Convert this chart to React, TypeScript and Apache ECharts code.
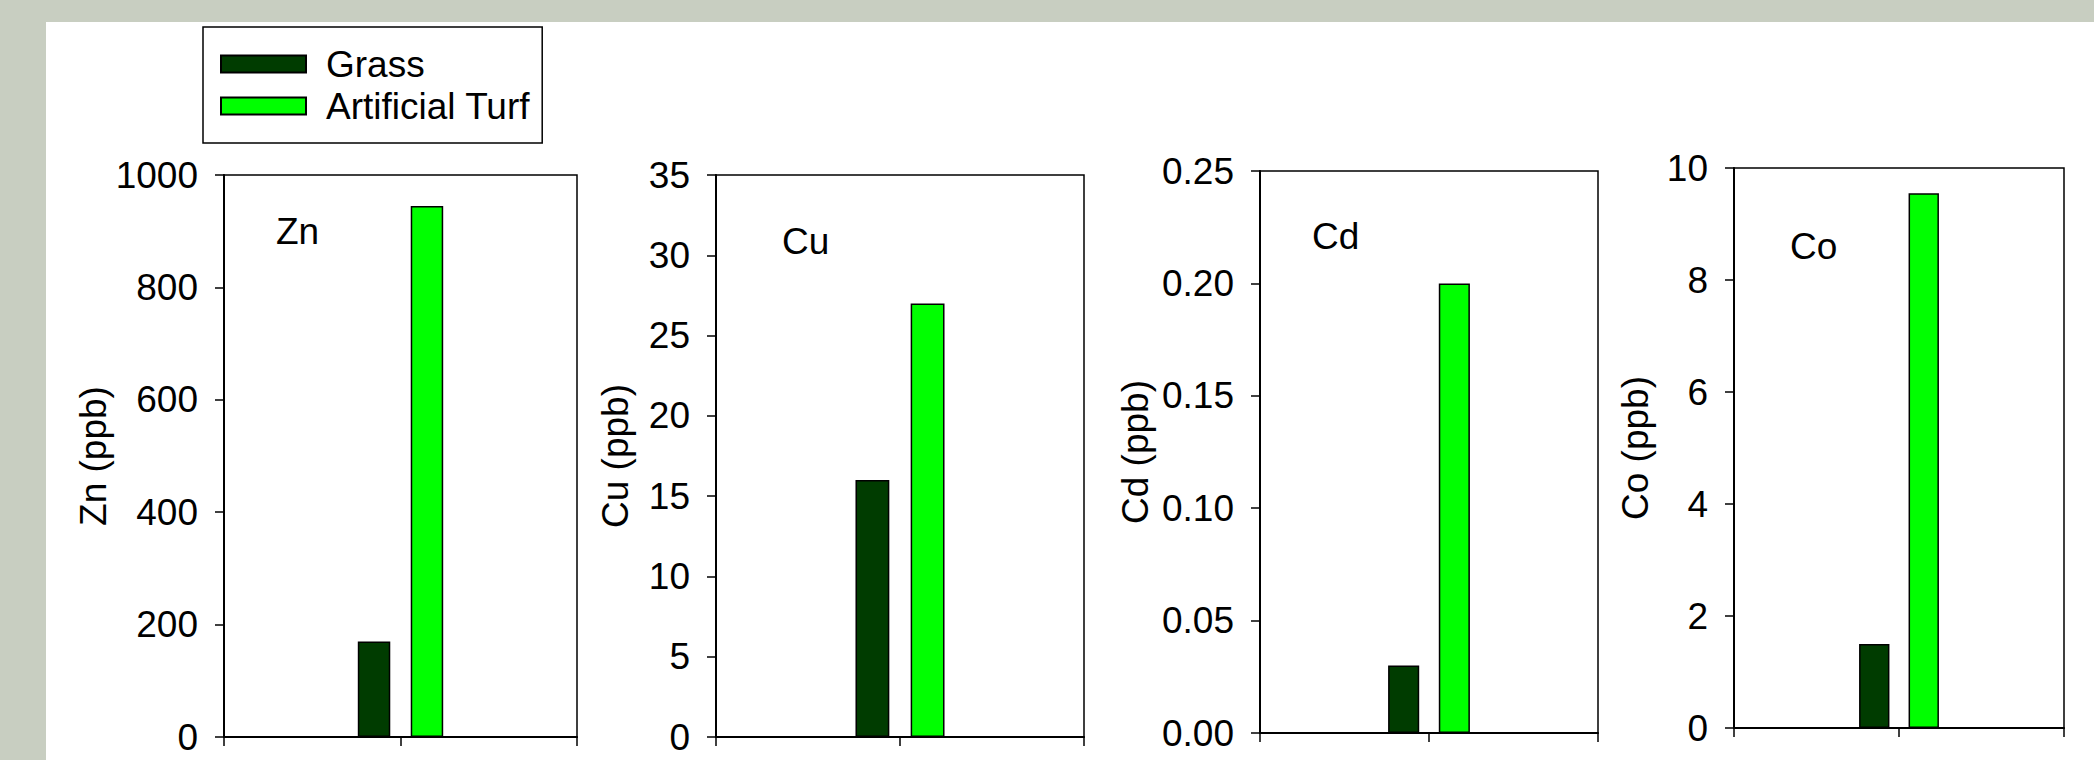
import React, { useEffect, useRef } from "react";
import * as echarts from "echarts";

// ---- data ----
const elements = ["Zn", "Cu", "Cd", "Co"];
const seriesNames = ["Grass", "Artificial Turf"];
const grassValues = [170, 16, 0.03, 1.5];
const turfValues = [945, 27, 0.2, 9.55];
const yMaxValues = [1000, 35, 0.25, 10];
const yIntervals = [200, 5, 0.05, 2];
const yDecimals = [0, 0, 2, 0];
const yAxisNames = ["Zn (ppb)", "Cu (ppb)", "Cd (ppb)", "Co (ppb)"];

// ---- layout / style ----
const FONT = "'Liberation Sans', Arial, sans-serif";
const FS = 37;
const GRIDS = [
  { left: 224, top: 175, width: 353, height: 562, nameGap: 106, lx: 276, ly: 231 },
  { left: 716, top: 175, width: 368, height: 562, nameGap: 82, lx: 782, ly: 241 },
  { left: 1260, top: 171, width: 338, height: 562, nameGap: 106, lx: 1312, ly: 236 },
  { left: 1734, top: 168, width: 330, height: 560, nameGap: 80, lx: 1790, ly: 246 },
];
const COLORS = ["#003c00", "#00ff00"];

export default function App() {
  const ref = useRef<HTMLDivElement>(null);
  useEffect(() => {
    if (!ref.current) return;
    const chart = echarts.init(ref.current, null, { renderer: "svg" });

    const grid = GRIDS.map((g) => ({
      left: g.left,
      top: g.top,
      width: g.width,
      height: g.height,
      show: true,
      borderColor: "#000",
      borderWidth: 1.5,
      backgroundColor: "transparent",
    }));

    const xAxis: any[] = [];
    const yAxis: any[] = [];
    const series: any[] = [];
    elements.forEach((el, i) => {
      xAxis.push({
        type: "category",
        gridIndex: i,
        data: [el],
        position: "bottom",
        axisLine: { show: false },
        axisTick: { show: false },
        axisLabel: { show: false },
        splitLine: { show: false },
      });
      xAxis.push({
        type: "value",
        gridIndex: i,
        min: 0,
        max: 2,
        interval: 1,
        position: "bottom",
        axisLine: { show: true, onZero: false, lineStyle: { color: "#000", width: 2 } },
        axisTick: { show: true, inside: false, length: 9, lineStyle: { color: "#000", width: 1.5 } },
        axisLabel: { show: false },
        splitLine: { show: false },
      });
      yAxis.push({
        type: "value",
        gridIndex: i,
        min: 0,
        max: yMaxValues[i],
        interval: yIntervals[i],
        name: yAxisNames[i],
        nameLocation: "middle",
        nameGap: GRIDS[i].nameGap,
        nameTextStyle: { fontSize: FS, fontFamily: FONT, color: "#000" },
        axisLine: { show: true, onZero: false, lineStyle: { color: "#000", width: 2 } },
        axisTick: { show: true, inside: false, length: 9, lineStyle: { color: "#000", width: 1.5 } },
        axisLabel: {
          fontSize: FS,
          fontFamily: FONT,
          color: "#000",
          margin: 26,
          formatter: (v: number) => v.toFixed(yDecimals[i]),
        },
        splitLine: { show: false },
      });
      [grassValues, turfValues].forEach((vals, s) => {
        series.push({
          type: "bar",
          name: seriesNames[s],
          xAxisIndex: 2 * i,
          yAxisIndex: i,
          data: [vals[i]],
          barWidth: "9.2%",
          barGap: "63%",
          itemStyle: { color: COLORS[s], borderColor: "#000", borderWidth: 1.5 },
        });
      });
    });

    const graphicElements: any[] = [
      {
        type: "rect",
        shape: { x: 46, y: 22, width: 2094 - 46, height: 760 - 22 },
        style: { fill: "#ffffff" },
        z: -10,
        silent: true,
      },
      ...GRIDS.map((g, i) => ({
        type: "text",
        x: g.lx,
        y: g.ly,
        style: {
          text: elements[i],
          fontSize: FS,
          fontFamily: FONT,
          fill: "#000",
          align: "left",
          verticalAlign: "middle",
        },
        z: 10,
      })),
    ];

    chart.setOption({
      animation: false,
      backgroundColor: "#c8cec1",
      grid,
      xAxis,
      yAxis,
      series,
      legend: {
        data: seriesNames,
        orient: "vertical",
        left: 203,
        top: 27,
        padding: [17, 12, 17, 17],
        itemWidth: 85,
        itemHeight: 17,
        itemGap: 2,
        icon: "rect",
        borderColor: "#000",
        borderWidth: 1.5,
        backgroundColor: "#fff",
        textStyle: {
          fontSize: FS,
          fontFamily: FONT,
          color: "#000",
          lineHeight: 40,
          padding: [0, 0, 0, 15],
        },
      },
      graphic: { elements: graphicElements },
    });
    return () => chart.dispose();
  }, []);
  return (
    <div
      ref={ref}
      style={{ position: "fixed", left: 0, top: 0, width: 2094, height: 760 }}
    />
  );
}
